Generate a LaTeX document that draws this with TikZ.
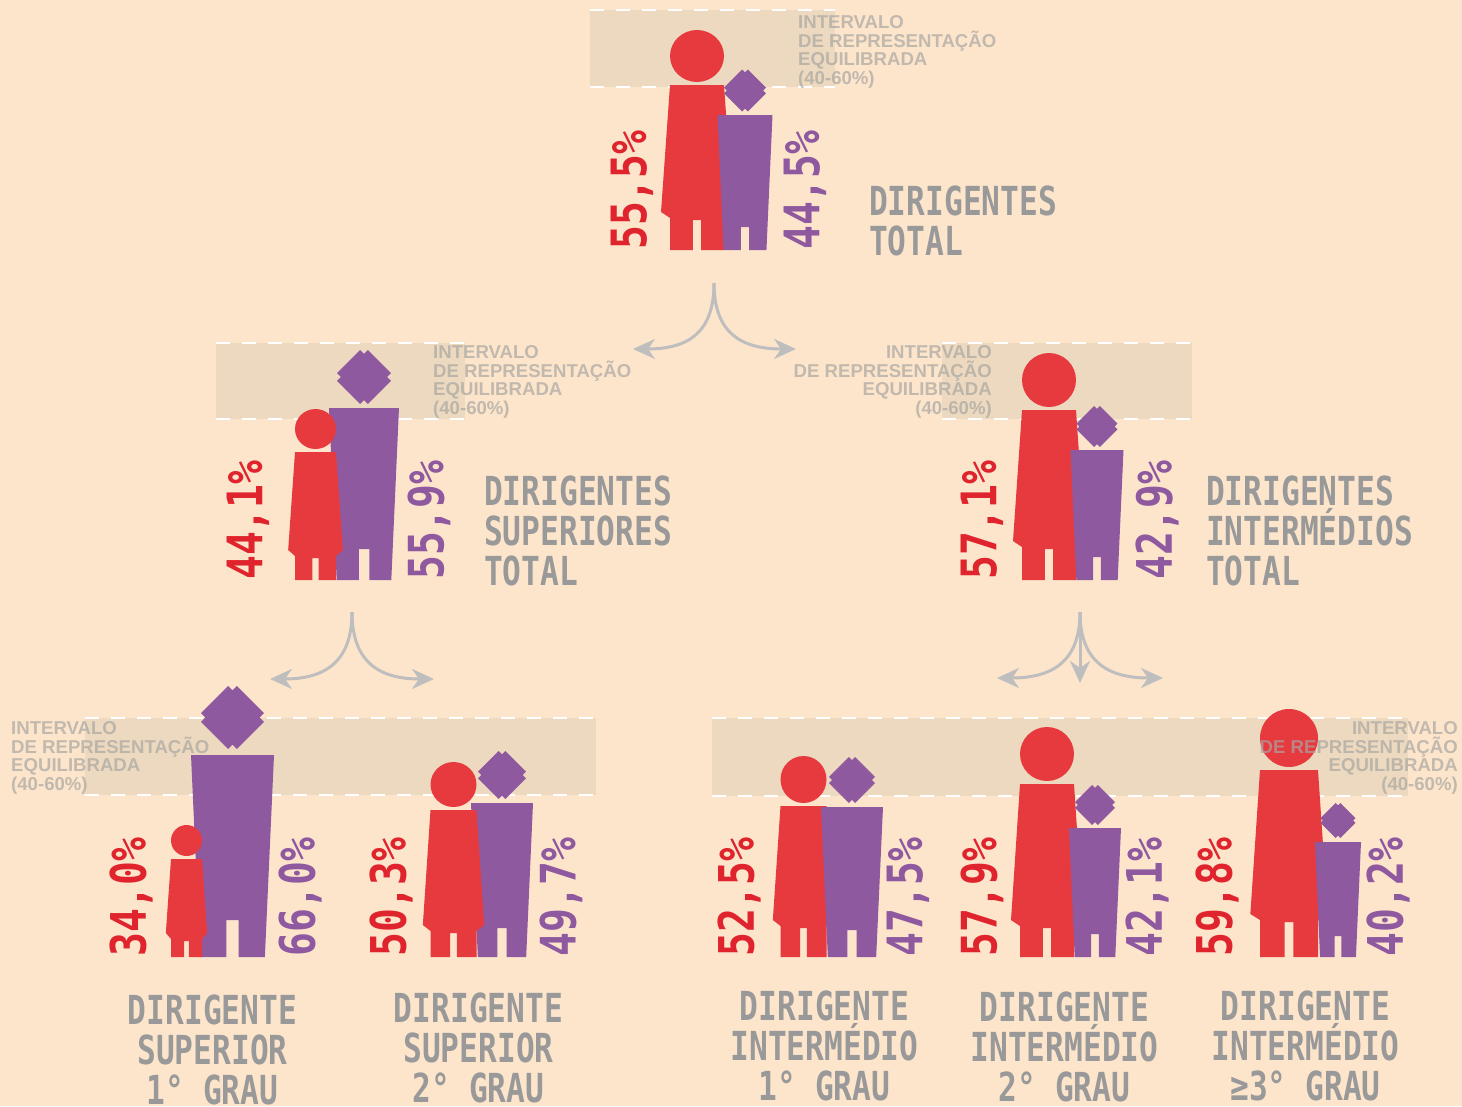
\documentclass[tikz,border=0pt]{standalone}
\usepackage{fontspec}
\usepackage{tikz}
\usetikzlibrary{arrows.meta}

\newfontfamily\monofont[FakeStretch=0.78]{DejaVu Sans Mono}
\newfontfamily\pctfont[FakeStretch=0.81]{DejaVu Sans Mono}
\newfontfamily\intfont{Liberation Sans}

\definecolor{fundo}{RGB}{253,229,204}
\definecolor{faixa}{RGB}{237,217,191}
\definecolor{vermelho}{RGB}{231,58,62}
\definecolor{vermelhotxt}{RGB}{224,36,45}
\definecolor{violeta}{RGB}{143,89,160}
\definecolor{cinza}{RGB}{153,153,153}
\definecolor{cinzaint}{RGB}{168,166,162}
\definecolor{cinzaseta}{RGB}{190,190,190}

% Silhouette de la femme : centre, demi-largeur, haut de la tete, hauteur de la tete, ourlet, pieds
\newcommand{\mulher}[6]{%
  \fill[vermelho] (#1,#3+#4/2) ellipse [x radius=#2, y radius=#4/2];
  \fill[vermelho] (#1-#2,#3+#4+3) -- (#1+#2,#3+#4+3) -- (#1+#2+#2/3,#5) -- (#1+#2,#5+6)
    -- (#1+#2,#6) -- (#1+0.15*#2,#6) -- (#1+0.15*#2,#5+8) -- (#1-0.15*#2,#5+8)
    -- (#1-0.15*#2,#6) -- (#1-#2,#6) -- (#1-#2,#5+6) -- (#1-#2-#2/3,#5) -- cycle;
}

% Silhouette de l'homme : centre, demi-largeur, centre de la tete, rayon de la tete, epaules, jambes, pieds
\newcommand{\homem}[7]{%
  \fill[violeta] (#1-#2,#5) -- (#1+#2,#5) -- (#1+0.78*#2,#7) -- (#1+0.15*#2,#7)
    -- (#1+0.15*#2,#6) -- (#1-0.15*#2,#6) -- (#1-0.15*#2,#7) -- (#1-0.78*#2,#7) -- cycle;
  \fill[violeta] (#1-0.14*#4,#3-#4) -- (#1,#3-0.86*#4) -- (#1+0.14*#4,#3-#4)
    -- (#1+#4,#3-0.14*#4) -- (#1+0.86*#4,#3) -- (#1+#4,#3+0.14*#4)
    -- (#1+0.14*#4,#3+#4) -- (#1,#3+0.86*#4) -- (#1-0.14*#4,#3+#4)
    -- (#1-#4,#3+0.14*#4) -- (#1-0.86*#4,#3) -- (#1-#4,#3-0.14*#4) -- cycle;
}

% Bande de representation equilibree
\newcommand{\faixa}[4]{%
  \fill[faixa] (#1,#2) rectangle (#3,#4);
  \draw[tracejado] (#1,#2) -- (#3,#2) (#1,#4) -- (#3,#4);
}

\tikzset{
  tracejado/.style={white, line width=2.5pt, dash pattern=on 14pt off 12pt},
  seta/.style={cinzaseta, line width=3pt, -{Stealth[length=22pt,width=20pt,inset=7pt]}},
  pct/.style={rotate=90, anchor=west, inner sep=0pt, font=\pctfont\bfseries\fontsize{49}{49}\selectfont},
  titulo/.style={text=cinza, inner sep=0pt, font=\monofont\bfseries\fontsize{40}{40}\selectfont},
  intervalo/.style={text=cinzaint, text opacity=0.7, inner sep=0pt, font=\intfont\bfseries\fontsize{18.6}{18.9}\selectfont}
}

\begin{document}
\begin{tikzpicture}[x=1pt, y=-1pt]
    % Fond de la figure
    \useasboundingbox (0,0) rectangle (1462,1106);
    \fill[fundo] (0,0) rectangle (1462,1106);

    % Bandes 40-60%
    \faixa{590}{10}{835}{87}
    \faixa{216}{343}{465}{419}
    \faixa{942}{343}{1192}{419}
    \faixa{85}{718}{596}{795}
    \faixa{712}{718}{1408}{796}

    % Dirigentes total
    \mulher{697}{27}{30}{52}{212}{250}
    \homem{745}{27.5}{90.5}{21}{115}{227}{250}

    % Dirigentes superiores et intermediaires
    \homem{364}{35}{377}{27}{408}{549}{580}
    \mulher{315.5}{20.5}{409}{40}{550}{580}
    \mulher{1049}{27}{353}{54}{541}{580}
    \homem{1097}{26.5}{426.5}{20.5}{450}{557}{580}

    % Dirigentes par grau
    \homem{232.5}{41.5}{717.5}{31.5}{755}{920}{957}
    \mulher{186.5}{15.5}{825}{31}{933}{957}
    \homem{502}{31}{775}{24}{803}{928}{957}
    \mulher{453.5}{23}{762}{45}{925}{957}
    \mulher{803.5}{23}{756}{47}{920}{957}
    \homem{852}{31}{780}{23}{807}{930}{957}
    \mulher{1047}{27}{727}{54}{920}{957}
    \homem{1095}{26}{805}{20}{828}{934}{957}
    \mulher{1289}{29}{709}{58}{914}{957}
    \homem{1338}{23}{820.5}{17.5}{842}{936}{957}

    % Textes des intervalles
    \node[intervalo, anchor=north west, align=left] (iv-topo) at (798,15) {INTERVALO\\DE REPRESENTAÇÃO\\EQUILIBRADA\\(40-60\%)};
    \node[intervalo, anchor=north west, align=left] (iv-sup) at (433,345) {INTERVALO\\DE REPRESENTAÇÃO\\EQUILIBRADA\\(40-60\%)};
    \node[intervalo, anchor=north east, align=right] (iv-int) at (992,345) {INTERVALO\\DE REPRESENTAÇÃO\\EQUILIBRADA\\(40-60\%)};
    \node[intervalo, anchor=north west, align=left] (iv-sup-g) at (11,721) {INTERVALO\\DE REPRESENTAÇÃO\\EQUILIBRADA\\(40-60\%)};
    \node[intervalo, anchor=north east, align=right] (iv-int-g) at (1458,721) {INTERVALO\\DE REPRESENTAÇÃO\\EQUILIBRADA\\(40-60\%)};

    % Pourcentages
    \node[pct, text=vermelhotxt] (pf-topo) at (632,250) {55,5\%};
    \node[pct, text=violeta] (pm-topo) at (805,250) {44,5\%};
    \node[pct, text=vermelhotxt] (pf-sup) at (248,580) {44,1\%};
    \node[pct, text=violeta] (pm-sup) at (429,580) {55,9\%};
    \node[pct, text=vermelhotxt] (pf-int) at (982,580) {57,1\%};
    \node[pct, text=violeta] (pm-int) at (1157,580) {42,9\%};
    \node[pct, text=vermelhotxt] (pf-sup1) at (131,957) {34,0\%};
    \node[pct, text=violeta] (pm-sup1) at (300,957) {66,0\%};
    \node[pct, text=vermelhotxt] (pf-sup2) at (391,957) {50,3\%};
    \node[pct, text=violeta] (pm-sup2) at (561,957) {49,7\%};
    \node[pct, text=vermelhotxt] (pf-int1) at (739,957) {52,5\%};
    \node[pct, text=violeta] (pm-int1) at (908,957) {47,5\%};
    \node[pct, text=vermelhotxt] (pf-int2) at (982,957) {57,9\%};
    \node[pct, text=violeta] (pm-int2) at (1147,957) {42,1\%};
    \node[pct, text=vermelhotxt] (pf-int3) at (1217,957) {59,8\%};
    \node[pct, text=violeta] (pm-int3) at (1388,957) {40,2\%};

    % Titres
    \node[titulo, anchor=north west, align=left] (t-topo) at (869,186) {DIRIGENTES\\TOTAL};
    \node[titulo, anchor=north west, align=left] (t-sup) at (484,476) {DIRIGENTES\\SUPERIORES\\TOTAL};
    \node[titulo, anchor=north west, align=left] (t-int) at (1206,476) {DIRIGENTES\\INTERMÉDIOS\\TOTAL};
    \node[titulo, anchor=north, align=center] (t-sup1) at (212.5,995) {DIRIGENTE\\SUPERIOR\\1° GRAU};
    \node[titulo, anchor=north, align=center] (t-sup2) at (478.5,993) {DIRIGENTE\\SUPERIOR\\2° GRAU};
    \node[titulo, anchor=north, align=center] (t-int1) at (824.5,991) {DIRIGENTE\\INTERMÉDIO\\1° GRAU};
    \node[titulo, anchor=north, align=center] (t-int2) at (1064.5,992) {DIRIGENTE\\INTERMÉDIO\\2° GRAU};
    \node[titulo, anchor=north, align=center] (t-int3) at (1305.5,991) {DIRIGENTE\\INTERMÉDIO\\≥3° GRAU};

    % Fleches de decomposition
    \coordinate (s-topo) at (714,283);
    \coordinate (s-topo-e) at (633,349);
    \coordinate (s-topo-d) at (796,349);
    \draw[seta] (s-topo) .. controls +(0,50) and +(55,0) .. (s-topo-e);
    \draw[seta] (s-topo) .. controls +(0,50) and +(-55,0) .. (s-topo-d);

    \coordinate (s-sup) at (352,612);
    \coordinate (s-sup-e) at (270,679);
    \coordinate (s-sup-d) at (434,679);
    \draw[seta] (s-sup) .. controls +(0,50) and +(55,0) .. (s-sup-e);
    \draw[seta] (s-sup) .. controls +(0,50) and +(-55,0) .. (s-sup-d);

    \coordinate (s-int) at (1080,612);
    \coordinate (s-int-e) at (997,678);
    \coordinate (s-int-d) at (1163,678);
    \coordinate (s-int-b) at (1080,683);
    \draw[seta] (s-int) .. controls +(0,50) and +(55,0) .. (s-int-e);
    \draw[seta] (s-int) .. controls +(0,50) and +(-55,0) .. (s-int-d);
    \draw[seta] (s-int) -- (s-int-b);
\end{tikzpicture}
\end{document}
